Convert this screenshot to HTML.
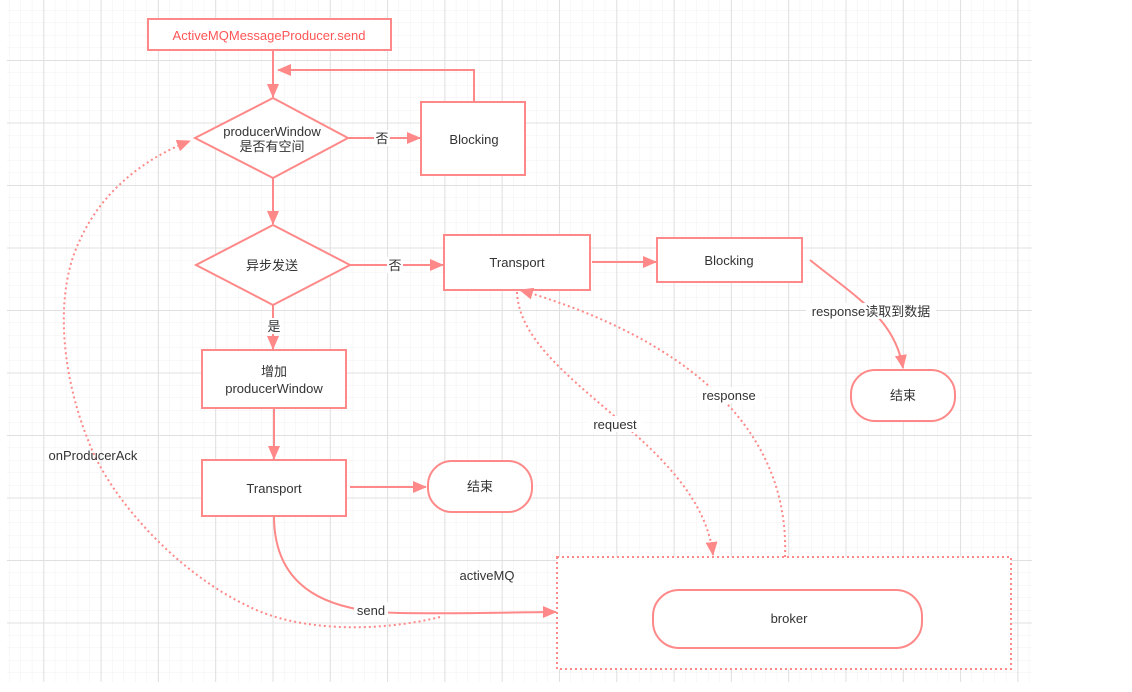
<!DOCTYPE html>
<html><head><meta charset="utf-8"><style>
html,body{margin:0;padding:0;background:#fff;}
svg{display:block;}
text{font-family:"Liberation Sans","Noto Sans CJK SC",sans-serif;font-size:13px;fill:#333;}
</style></head><body>
<svg width="1132" height="692" viewBox="0 0 1132 692" xmlns="http://www.w3.org/2000/svg">
<defs>
<pattern id="minor" x="-14" y="-2.5" width="11.46" height="12.5" patternUnits="userSpaceOnUse">
<path d="M0 0V12.5M0 0H11.46" stroke="#f1f1f1" stroke-width="1" fill="none"/>
</pattern>
<pattern id="major" x="-14" y="-2.5" width="57.3" height="62.5" patternUnits="userSpaceOnUse">
<path d="M0.5 0V62.5M0 0.5H57.3" stroke="#e0e0e0" stroke-width="1" fill="none"/>
</pattern>
<marker id="ah2" markerWidth="14" markerHeight="12" refX="13" refY="6" orient="auto" markerUnits="userSpaceOnUse" viewBox="0 0 14 12">
<path d="M0 0L14 6L0 12z" fill="#f88"/>
</marker>
</defs>
<rect x="7" y="0" width="1025" height="682" fill="url(#minor)"/>
<rect x="7" y="0" width="1025" height="682" fill="url(#major)"/>

<g stroke="#f88" stroke-width="2" fill="#fff">
<rect x="557" y="557" width="454" height="112" stroke-dasharray="2 3" fill="#fff"/>
<rect x="148" y="19" width="243" height="31"/>
<polygon points="195,138 273,98 348,138 273,178"/>
<rect x="421" y="102" width="104" height="73"/>
<polygon points="196,265 273,225 350,265 273,305"/>
<rect x="444" y="235" width="146" height="55"/>
<rect x="657" y="238" width="145" height="44"/>
<rect x="851" y="370" width="104" height="51" rx="24"/>
<rect x="202" y="350" width="144" height="58"/>
<rect x="202" y="460" width="144" height="56"/>
<rect x="428" y="461" width="104" height="51" rx="24"/>
<rect x="653" y="590" width="269" height="58" rx="26"/>
</g>

<g stroke="#f88" stroke-width="2" fill="none">
<path d="M273 50V97" marker-end="url(#ah2)"/>
<path d="M474 102V70H278" marker-end="url(#ah2)"/>
<path d="M348 138H420" marker-end="url(#ah2)"/>
<path d="M273 178V224" marker-end="url(#ah2)"/>
<path d="M350 265H443" marker-end="url(#ah2)"/>
<path d="M592 262H656" marker-end="url(#ah2)"/>
<path d="M273 305V349" marker-end="url(#ah2)"/>
<path d="M274 408V459" marker-end="url(#ah2)"/>
<path d="M350 487H426" marker-end="url(#ah2)"/>
<path d="M810 260C860 300 895 320 903 368" marker-end="url(#ah2)"/>
<path d="M274 516C274 590 330 612 400 613C470 614 520 612 556 612" marker-end="url(#ah2)"/>
</g>
<g stroke="#f88" stroke-width="2" fill="none" stroke-dasharray="2 3">
<path d="M517 292C520 380 700 440 713 555" marker-end="url(#ah2)"/>
<path d="M785 557C790 430 690 340 520 290" marker-end="url(#ah2)"/>
<path d="M440 617C380 632 300 632 250 607C180 575 110 500 88 440C60 370 55 290 80 240C100 195 140 160 190 141" marker-end="url(#ah2)"/>
</g>

<g text-anchor="middle">
<text x="269" y="40" style="fill:#f55">ActiveMQMessageProducer.send</text>
<text x="272" y="136">producerWindow</text>
<text x="272" y="151">是否有空间</text>
<text x="474" y="144">Blocking</text>
<rect x="374" y="130" width="16" height="16" fill="#fff"/>
<text x="382" y="143">否</text>
<text x="272" y="270">异步发送</text>
<rect x="387" y="257" width="16" height="16" fill="#fff"/>
<text x="395" y="270">否</text>
<text x="517" y="267">Transport</text>
<text x="729" y="265">Blocking</text>
<rect x="806" y="303" width="130" height="16" fill="#fff"/>
<text x="871" y="316">response读取到数据</text>
<text x="903" y="400">结束</text>
<rect x="266" y="318" width="16" height="16" fill="#fff"/>
<text x="274" y="331">是</text>
<text x="274" y="376">增加</text>
<text x="274" y="393">producerWindow</text>
<text x="274" y="493">Transport</text>
<text x="480" y="491">结束</text>
<text x="93" y="460">onProducerAck</text>
<rect x="588" y="416" width="55" height="16" fill="#fff"/>
<text x="615" y="429">request</text>
<rect x="697" y="387" width="66" height="16" fill="#fff"/>
<text x="729" y="400">response</text>
<text x="487" y="580">activeMQ</text>
<rect x="354" y="602" width="34" height="16" fill="#fff"/>
<text x="371" y="615">send</text>
<text x="789" y="623">broker</text>
</g>
</svg>
</body></html>
